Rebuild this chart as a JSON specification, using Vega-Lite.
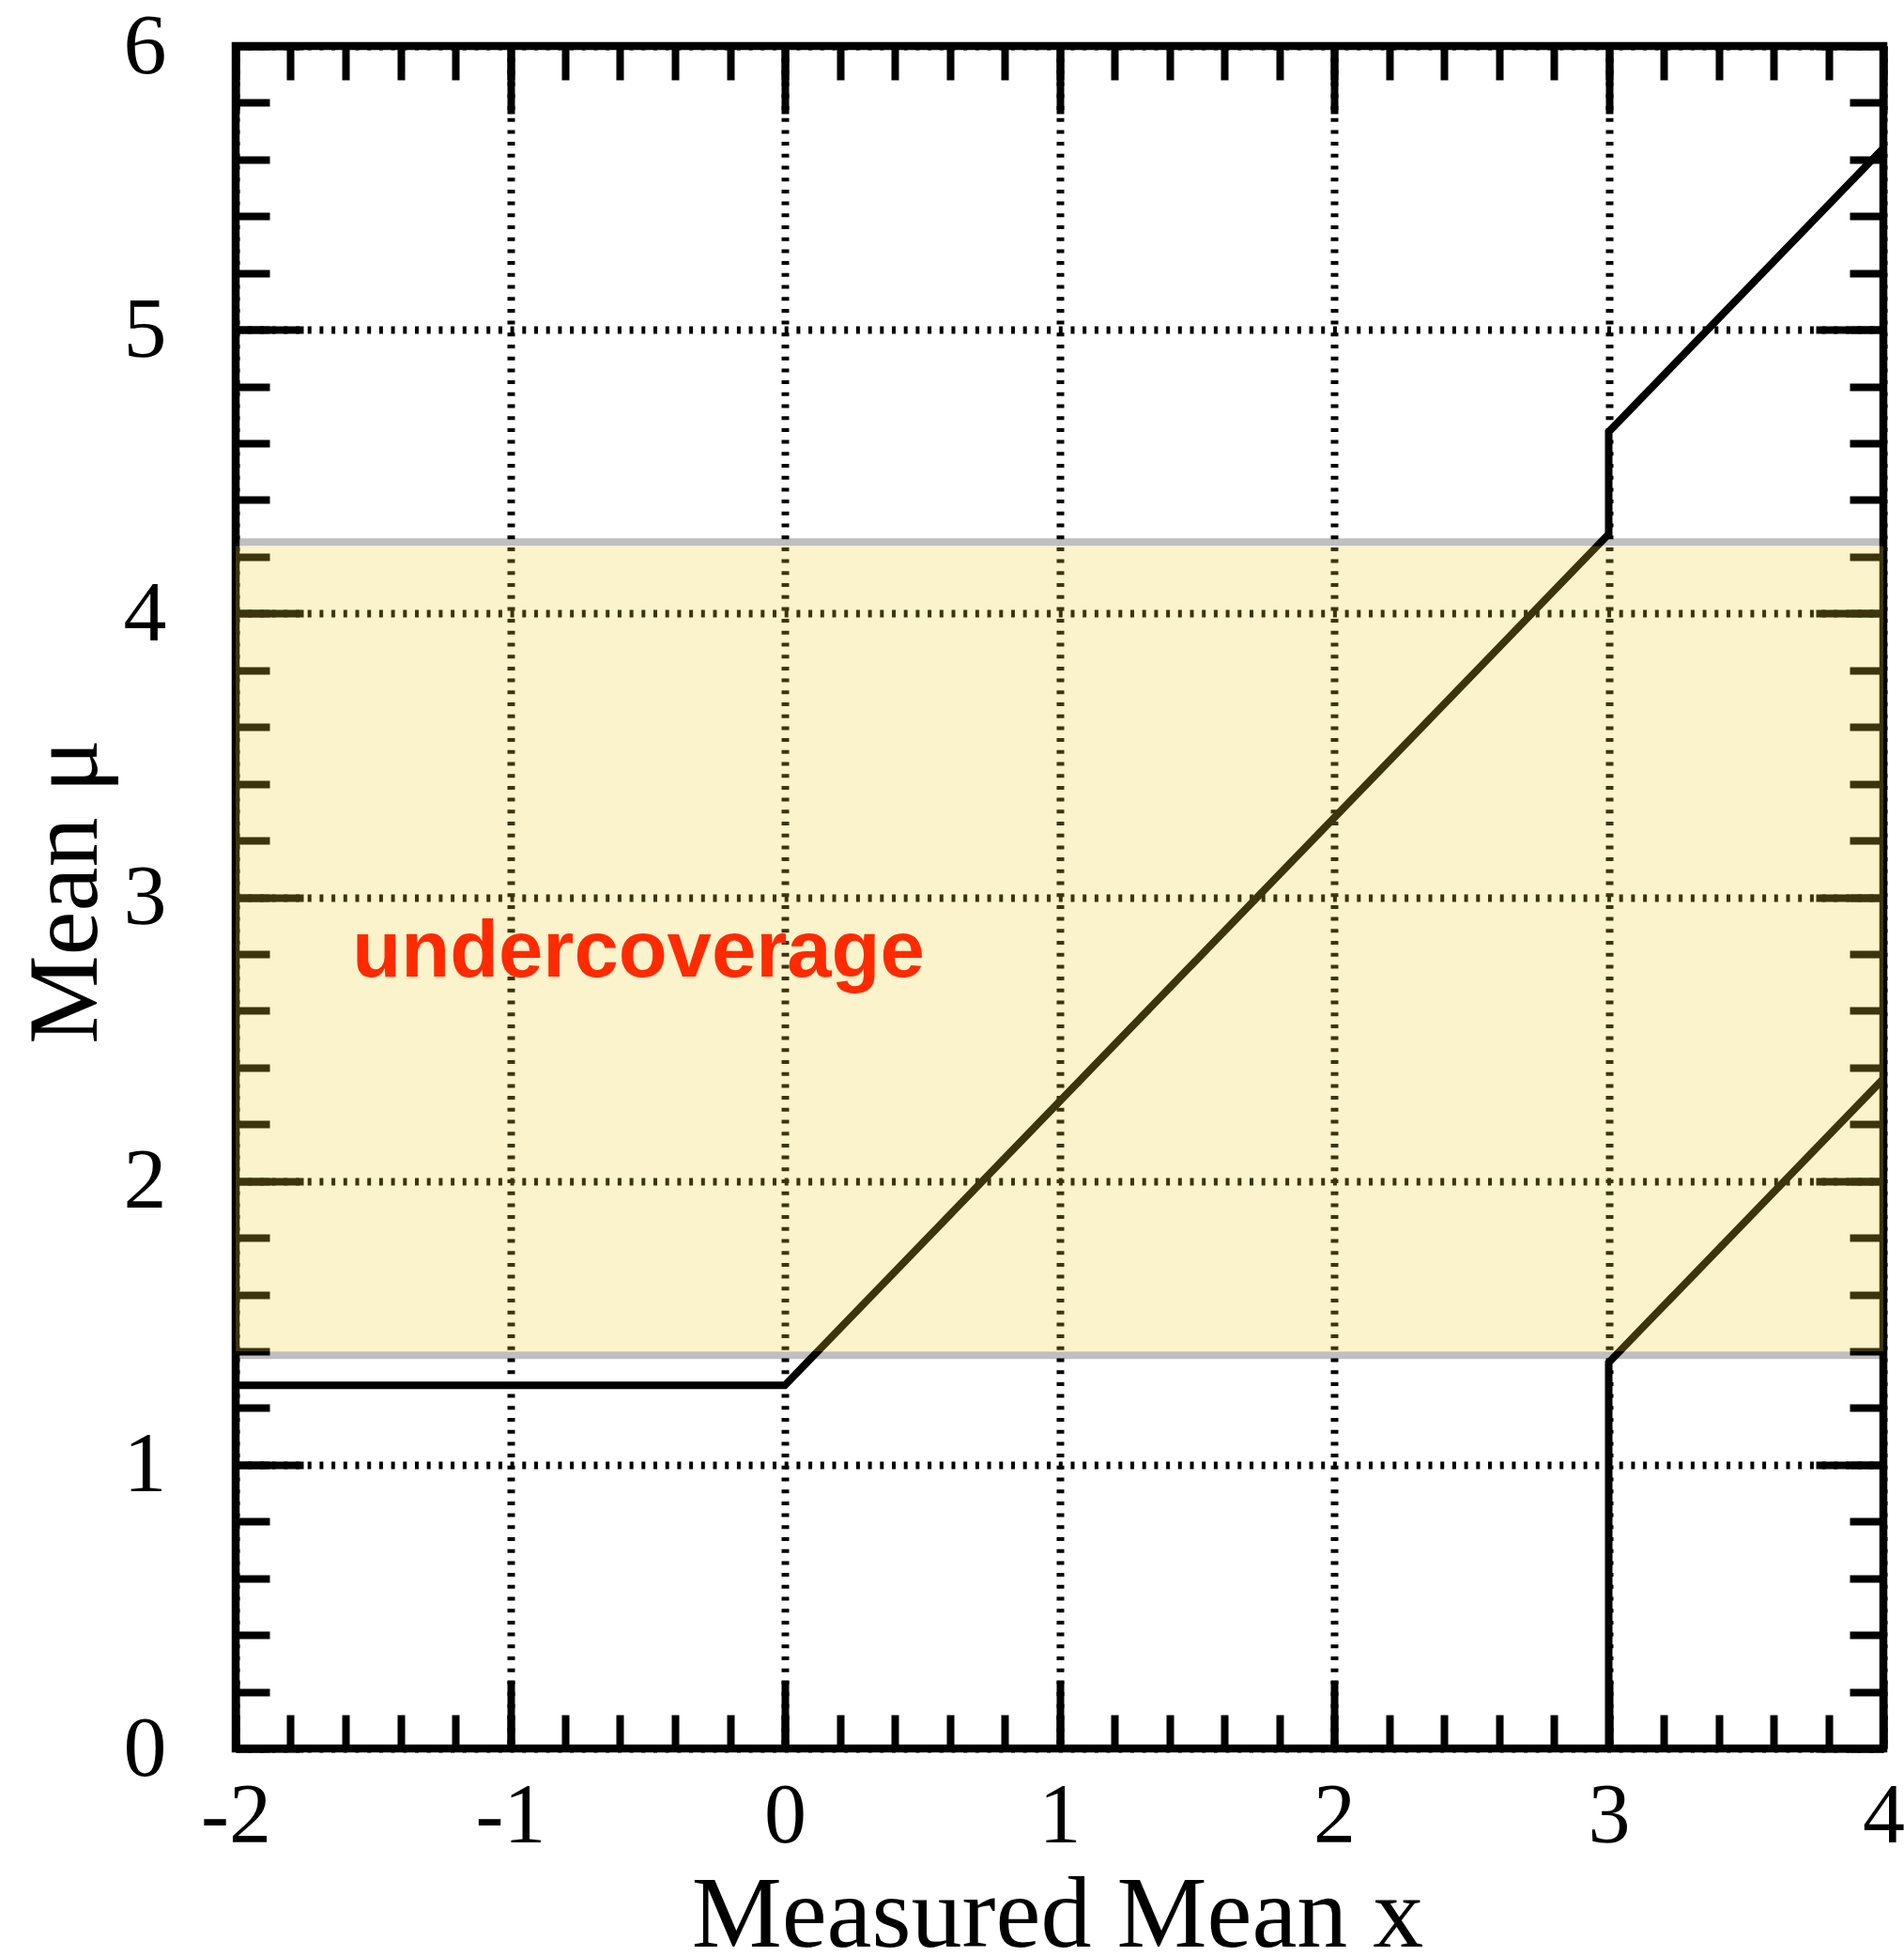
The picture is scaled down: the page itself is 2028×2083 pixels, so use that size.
{
  "$schema": "https://vega.github.io/schema/vega-lite/v6.json",
  "autosize": {"type": "none"},
  "padding": {"left": 251, "top": 49, "right": 22, "bottom": 221},
  "width": 1755,
  "height": 1813,
  "background": "white",
  "config": {
    "view": {"stroke": "#000", "strokeWidth": 8.5, "fill": "white"},
    "axis": {"domain": false, "tickColor": "#000", "tickWidth": 8, "tickCap": "butt", "zindex": 0}
  },
  "datasets": {
    "upper": [
      {"i": 0, "x": -2, "mu": 1.28},
      {"i": 1, "x": 0, "mu": 1.28},
      {"i": 2, "x": 3, "mu": 4.28},
      {"i": 3, "x": 3, "mu": 4.64},
      {"i": 4, "x": 4, "mu": 5.64}
    ],
    "lower": [
      {"i": 0, "x": 3, "mu": 0},
      {"i": 1, "x": 3, "mu": 1.36},
      {"i": 2, "x": 4, "mu": 2.36}
    ],
    "band": [{"x1": -2, "x2": 4, "mu1": 1.4, "mu2": 4.238}],
    "edges": [
      {"x1": -2, "x2": 4, "mu": 1.386},
      {"x1": -2, "x2": 4, "mu": 4.252}
    ],
    "labels": [{"x": -1.575, "mu": 2.72, "text": "undercoverage"}]
  },
  "resolve": {"axis": {"x": "independent", "y": "independent"}},
  "layer": [
    {
      "data": {"name": "upper"},
      "mark": {"type": "line", "color": "#000", "strokeWidth": 8, "strokeJoin": "miter", "clip": true},
      "encoding": {
        "x": {
          "field": "x", "type": "quantitative",
          "scale": {"domain": [-2, 4], "nice": false, "zero": false},
          "axis": {
            "orient": "bottom", "values": [-2, -1, 0, 1, 2, 3, 4], "ticks": false,
            "grid": true, "gridColor": "#000", "gridWidth": 8, "gridDash": [4, 8.7], "gridOpacity": 1,
            "labelExpr": "'' + datum.value", "labelFont": "Liberation Serif", "labelFontSize": 90,
            "labelColor": "#000", "labelPadding": 99, "labelBaseline": "alphabetic",
            "labelFlush": false, "labelOverlap": false, "labelBound": false,
            "title": "Measured Mean x", "titleFont": "Liberation Serif", "titleFontSize": 108,
            "titleFontWeight": "normal", "titleColor": "#000", "titleX": 875, "titleY": 210,
            "titleBaseline": "alphabetic", "titleAlign": "center", "titleAngle": 0
          }
        },
        "y": {
          "field": "mu", "type": "quantitative",
          "scale": {"domain": [0, 6], "nice": false, "zero": false},
          "axis": {
            "orient": "left", "values": [0, 1, 2, 3, 4, 5, 6], "ticks": false,
            "grid": true, "gridColor": "#000", "gridWidth": 8, "gridDash": [4, 8.7], "gridOpacity": 1,
            "labelExpr": "'' + datum.value", "labelFont": "Liberation Serif", "labelFontSize": 92,
            "labelColor": "#000", "labelPadding": 74, "labelAlign": "right", "labelBaseline": "middle",
            "labelFlush": false, "labelOverlap": false, "labelBound": false,
            "title": "Mean μ", "titleFont": "Liberation Serif", "titleFontSize": 106,
            "titleFontWeight": "normal", "titleColor": "#000", "titleX": -149, "titleY": 900,
            "titleBaseline": "alphabetic", "titleAlign": "center", "titleAngle": -90
          }
        },
        "order": {"field": "i", "type": "quantitative"}
      }
    },
    {
      "data": {"name": "lower"},
      "mark": {"type": "line", "color": "#000", "strokeWidth": 8, "strokeJoin": "miter", "clip": true},
      "encoding": {
        "x": {
          "field": "x", "type": "quantitative",
          "axis": {"orient": "bottom", "values": [-2, -1, 0, 1, 2, 3, 4], "tickSize": -72, "labels": false, "grid": false, "title": null}
        },
        "y": {
          "field": "mu", "type": "quantitative",
          "axis": {"orient": "left", "values": [0, 1, 2, 3, 4, 5, 6], "tickSize": -72, "labels": false, "grid": false, "title": null}
        },
        "order": {"field": "i", "type": "quantitative"}
      }
    },
    {
      "data": {"name": "band"},
      "mark": {"type": "rect", "color": "#EBCF2F", "opacity": 0.25},
      "encoding": {
        "x": {
          "field": "x1", "type": "quantitative",
          "axis": {"orient": "bottom", "values": [-2, -1.8, -1.6, -1.4, -1.2, -1, -0.8, -0.6, -0.4, -0.2, 0, 0.2, 0.4, 0.6, 0.8, 1, 1.2, 1.4, 1.6, 1.8, 2, 2.2, 2.4, 2.6, 2.8, 3, 3.2, 3.4, 3.6, 3.8, 4], "tickSize": -36, "labels": false, "grid": false, "title": null}
        },
        "x2": {"field": "x2"},
        "y": {
          "field": "mu1", "type": "quantitative",
          "axis": {"orient": "left", "values": [0, 0.2, 0.4, 0.6, 0.8, 1, 1.2, 1.4, 1.6, 1.8, 2, 2.2, 2.4, 2.6, 2.8, 3, 3.2, 3.4, 3.6, 3.8, 4, 4.2, 4.4, 4.6, 4.8, 5, 5.2, 5.4, 5.6, 5.8, 6], "tickSize": -36, "labels": false, "grid": false, "title": null}
        },
        "y2": {"field": "mu2"}
      }
    },
    {
      "data": {"name": "edges"},
      "mark": {"type": "rule", "color": "#000", "strokeWidth": 8, "opacity": 0.25},
      "encoding": {
        "x": {
          "field": "x1", "type": "quantitative",
          "axis": {"orient": "top", "values": [-2, -1, 0, 1, 2, 3, 4], "tickSize": -72, "labels": false, "grid": false, "title": null}
        },
        "x2": {"field": "x2"},
        "y": {
          "field": "mu", "type": "quantitative",
          "axis": {"orient": "right", "values": [0, 1, 2, 3, 4, 5, 6], "tickSize": -72, "labels": false, "grid": false, "title": null}
        }
      }
    },
    {
      "data": {"name": "labels"},
      "mark": {"type": "text", "color": "#FF2A00", "font": "Liberation Sans", "fontWeight": "bold", "fontSize": 85, "align": "left", "baseline": "alphabetic"},
      "encoding": {
        "x": {
          "field": "x", "type": "quantitative",
          "axis": {"orient": "top", "values": [-2, -1.8, -1.6, -1.4, -1.2, -1, -0.8, -0.6, -0.4, -0.2, 0, 0.2, 0.4, 0.6, 0.8, 1, 1.2, 1.4, 1.6, 1.8, 2, 2.2, 2.4, 2.6, 2.8, 3, 3.2, 3.4, 3.6, 3.8, 4], "tickSize": -36, "labels": false, "grid": false, "title": null}
        },
        "y": {
          "field": "mu", "type": "quantitative",
          "axis": {"orient": "right", "values": [0, 0.2, 0.4, 0.6, 0.8, 1, 1.2, 1.4, 1.6, 1.8, 2, 2.2, 2.4, 2.6, 2.8, 3, 3.2, 3.4, 3.6, 3.8, 4, 4.2, 4.4, 4.6, 4.8, 5, 5.2, 5.4, 5.6, 5.8, 6], "tickSize": -36, "labels": false, "grid": false, "title": null}
        },
        "text": {"field": "text"}
      }
    }
  ]
}
